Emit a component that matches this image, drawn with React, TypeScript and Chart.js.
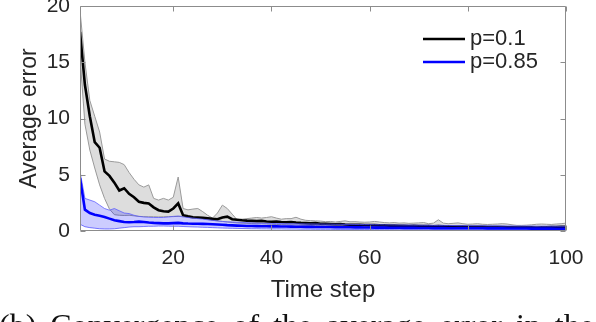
import React, { useEffect, useRef } from "react";
import { Chart, registerables } from "chart.js";

Chart.register(...registerables);

// ---- data ----
const timeSteps: number[] = Array.from({ length: 100 }, (_, i) => i + 1);
const xTickValues = [20, 40, 60, 80, 100];
const yTickValues = [0, 5, 10, 15, 20];
const seriesLabels = ["p=0.1", "p=0.85"];
const xTitle = "Time step";
const yTitle = "Average error";
const caption = "(b) Convergence of the average error in the estimation in";

const blackMean = [
  17.7, 13.0, 10.2, 7.9, 7.4, 5.3, 4.9, 4.3, 3.6, 3.8,
  3.3, 3.0, 2.6, 2.5, 2.45, 2.1, 1.85, 1.75, 1.72, 2.0,
  2.45, 1.4, 1.3, 1.22, 1.2, 1.18, 1.13, 1.08, 1.04, 1.2,
  1.27, 1.05, 1.0, 0.95, 0.92, 0.9, 0.88, 0.9, 0.85, 0.82,
  0.85, 0.8, 0.78, 0.8, 0.75, 0.72, 0.7, 0.68, 0.7, 0.65,
  0.64, 0.62, 0.6, 0.62, 0.58, 0.56, 0.55, 0.55, 0.54, 0.52,
  0.52, 0.5, 0.5, 0.48, 0.48, 0.47, 0.46, 0.45, 0.46, 0.44,
  0.43, 0.44, 0.42, 0.45, 0.42, 0.41, 0.4, 0.4, 0.39, 0.38,
  0.38, 0.37, 0.37, 0.36, 0.36, 0.35, 0.35, 0.34, 0.34, 0.33,
  0.33, 0.32, 0.32, 0.31, 0.32, 0.33, 0.35, 0.36, 0.37, 0.38,
];
const blackUpper = [
  19.6, 15.0, 11.6, 10.2, 8.8, 6.4, 6.2, 6.15, 6.1, 5.9,
  5.2, 4.6, 4.1, 3.9, 4.1, 2.9, 2.75, 2.9, 2.75, 3.0,
  4.8, 2.0, 1.88, 1.95, 2.0, 1.72, 1.4, 1.15, 1.6, 2.3,
  2.0, 1.5, 1.0, 1.05, 1.1, 1.15, 1.2, 1.15, 1.2, 1.27,
  1.15, 1.05, 1.1, 1.1, 1.22, 1.05, 0.95, 0.92, 0.9, 0.88,
  0.83, 0.85, 0.8, 0.85, 0.9, 0.82, 0.83, 0.8, 0.78, 0.8,
  0.85, 0.8, 0.75, 0.72, 0.75, 0.7, 0.72, 0.68, 0.7, 0.72,
  0.75, 0.65, 0.7, 1.0, 0.7, 0.65, 0.68, 0.72, 0.65, 0.6,
  0.62, 0.65, 0.6, 0.58, 0.6, 0.62, 0.65, 0.62, 0.55, 0.5,
  0.5, 0.52, 0.55, 0.6, 0.62, 0.6, 0.58, 0.62, 0.65, 0.7,
];
const blackLower = [
  15.5, 9.5, 7.2, 5.6, 4.1, 2.9, 1.95, 1.45, 1.4, 1.38,
  1.4, 1.35, 1.3, 1.28, 1.27, 1.27, 1.25, 1.27, 1.28, 1.28,
  1.3, 1.32, 1.28, 1.22, 1.15, 1.1, 1.02, 0.95, 0.9, 0.85,
  0.8, 0.76, 0.72, 0.7, 0.68, 0.66, 0.65, 0.64, 0.62, 0.6,
  0.58, 0.57, 0.56, 0.55, 0.54, 0.52, 0.5, 0.49, 0.48, 0.47,
  0.46, 0.45, 0.44, 0.43, 0.42, 0.41, 0.4, 0.39, 0.38, 0.37,
  0.36, 0.35, 0.35, 0.34, 0.33, 0.33, 0.32, 0.31, 0.31, 0.3,
  0.3, 0.29, 0.29, 0.28, 0.28, 0.27, 0.27, 0.26, 0.26, 0.25,
  0.25, 0.24, 0.24, 0.24, 0.23, 0.23, 0.22, 0.22, 0.22, 0.21,
  0.21, 0.21, 0.2, 0.2, 0.2, 0.21, 0.22, 0.23, 0.24, 0.25,
];
const blueMean = [
  4.7, 1.9, 1.6, 1.45, 1.35, 1.25, 1.1, 0.95, 0.88, 0.8,
  0.78, 0.8, 0.83, 0.8, 0.75, 0.72, 0.7, 0.68, 0.68, 0.7,
  0.72, 0.68, 0.66, 0.65, 0.64, 0.63, 0.62, 0.6, 0.58, 0.55,
  0.52, 0.5, 0.48, 0.46, 0.44, 0.44, 0.43, 0.42, 0.42, 0.41,
  0.41, 0.4, 0.4, 0.39, 0.38, 0.38, 0.37, 0.37, 0.36, 0.36,
  0.35, 0.35, 0.34, 0.34, 0.33, 0.33, 0.32, 0.32, 0.31, 0.31,
  0.3, 0.3, 0.3, 0.29, 0.29, 0.29, 0.28, 0.28, 0.28, 0.27,
  0.27, 0.27, 0.26, 0.26, 0.26, 0.25, 0.25, 0.25, 0.25, 0.24,
  0.24, 0.24, 0.24, 0.23, 0.23, 0.23, 0.23, 0.22, 0.22, 0.22,
  0.22, 0.22, 0.21, 0.21, 0.21, 0.21, 0.21, 0.2, 0.2, 0.2,
];
const blueUpper = [
  5.3, 2.9, 2.75, 2.6, 2.3, 2.0, 1.85, 2.0, 1.8, 1.6,
  1.55, 1.4, 1.3, 1.25, 1.22, 1.2, 1.2, 1.2, 1.25, 1.3,
  1.33, 1.25, 1.2, 1.15, 1.1, 1.05, 1.0, 0.95, 0.9, 0.85,
  0.82, 0.8, 0.78, 0.76, 0.74, 0.72, 0.7, 0.69, 0.68, 0.67,
  0.66, 0.66, 0.65, 0.65, 0.64, 0.64, 0.63, 0.63, 0.62, 0.62,
  0.61, 0.61, 0.6, 0.6, 0.59, 0.59, 0.58, 0.58, 0.57, 0.57,
  0.56, 0.56, 0.55, 0.55, 0.54, 0.54, 0.53, 0.53, 0.52, 0.52,
  0.51, 0.51, 0.5, 0.5, 0.5, 0.49, 0.49, 0.48, 0.48, 0.48,
  0.47, 0.47, 0.47, 0.46, 0.46, 0.46, 0.45, 0.45, 0.45, 0.44,
  0.44, 0.44, 0.44, 0.43, 0.43, 0.43, 0.43, 0.42, 0.42, 0.42,
];
const blueLower = [
  0.6, 0.38, 0.3, 0.25, 0.2, 0.18, 0.18, 0.2, 0.25, 0.3,
  0.35, 0.38, 0.38, 0.4, 0.42, 0.42, 0.44, 0.44, 0.43, 0.42,
  0.42, 0.4, 0.38, 0.36, 0.35, 0.33, 0.32, 0.3, 0.28, 0.26,
  0.25, 0.24, 0.23, 0.22, 0.21, 0.2, 0.2, 0.19, 0.19, 0.18,
  0.18, 0.18, 0.17, 0.17, 0.17, 0.16, 0.16, 0.16, 0.15, 0.15,
  0.15, 0.15, 0.14, 0.14, 0.14, 0.14, 0.13, 0.13, 0.13, 0.13,
  0.12, 0.12, 0.12, 0.12, 0.12, 0.11, 0.11, 0.11, 0.11, 0.11,
  0.1, 0.1, 0.1, 0.1, 0.1, 0.1, 0.1, 0.09, 0.09, 0.09,
  0.09, 0.09, 0.09, 0.09, 0.08, 0.08, 0.08, 0.08, 0.08, 0.08,
  0.08, 0.08, 0.08, 0.07, 0.07, 0.07, 0.07, 0.07, 0.07, 0.07,
];

const FONT = "'Liberation Sans', Arial, Helvetica, sans-serif";
const TEXT = "#262626";
const AXIS = "#8c8c8c";

const pts = (vals: number[]) => vals.map((y, i) => ({ x: timeSteps[i], y }));

const framePlugin = {
  id: "matlabFrame",
  afterDatasetsDraw(chart: any) {
    const { ctx, chartArea: a, scales } = chart;
    const xs = scales.x;
    const ys = scales.y;
    const L = Math.round(a.left) + 0.5;
    const R = Math.round(a.right) - 0.5;
    const T = Math.round(a.top) + 0.5;
    const B = Math.round(a.bottom) - 0.5;
    ctx.save();
    ctx.strokeStyle = AXIS;
    ctx.lineWidth = 1;
    ctx.beginPath();
    ctx.moveTo(L, T); ctx.lineTo(R, T); ctx.lineTo(R, B); ctx.lineTo(L, B); ctx.closePath();
    const tl = 5;
    xTickValues.forEach((v) => {
      const px = Math.round(xs.getPixelForValue(v)) + 0.5;
      ctx.moveTo(px, B); ctx.lineTo(px, B - tl);
      ctx.moveTo(px, T); ctx.lineTo(px, T + tl);
    });
    yTickValues.forEach((v) => {
      const py = Math.round(ys.getPixelForValue(v)) + 0.5;
      ctx.moveTo(L, py); ctx.lineTo(L + tl, py);
      ctx.moveTo(R, py); ctx.lineTo(R - tl, py);
    });
    ctx.stroke();
    ctx.restore();
  },
};

const legendPlugin = {
  id: "insideLegend",
  afterDraw(chart: any) {
    const { ctx, chartArea: a } = chart;
    const items = chart.data.datasets.filter((d: any) => seriesLabels.includes(d.label));
    items.sort((p: any, q: any) => seriesLabels.indexOf(p.label) - seriesLabels.indexOf(q.label));
    ctx.save();
    ctx.font = `22px ${FONT}`;
    ctx.textBaseline = "middle";
    ctx.textAlign = "left";
    items.forEach((d: any, i: number) => {
      const y = a.top + 33 + i * 23;
      const x0 = a.right - 143;
      ctx.strokeStyle = d.borderColor;
      ctx.lineWidth = 2.5;
      ctx.beginPath();
      ctx.moveTo(x0, y);
      ctx.lineTo(x0 + 42, y);
      ctx.stroke();
      ctx.fillStyle = TEXT;
      ctx.fillText(d.label, x0 + 47, y);
    });
    ctx.restore();
  },
};

export default function App() {
  const ref = useRef<HTMLCanvasElement | null>(null);
  useEffect(() => {
    if (!ref.current) return;
    const chart = new Chart(ref.current, {
      type: "line",
      data: {
        datasets: [
          { label: seriesLabels[1], data: pts(blueMean), borderColor: "#0000ff", borderWidth: 2.6, pointRadius: 0, fill: false, tension: 0 },
          { label: "p=0.85 upper", data: pts(blueUpper), borderColor: "rgba(90,90,255,0.75)", borderWidth: 1, pointRadius: 0, fill: { target: 2 }, backgroundColor: "rgba(0,0,255,0.2)", tension: 0 },
          { label: "p=0.85 lower", data: pts(blueLower), borderColor: "rgba(90,90,255,0.75)", borderWidth: 1, pointRadius: 0, fill: false, tension: 0 },
          { label: seriesLabels[0], data: pts(blackMean), borderColor: "#000000", borderWidth: 2.6, pointRadius: 0, fill: false, tension: 0 },
          { label: "p=0.1 upper", data: pts(blackUpper), borderColor: "#9a9a9a", borderWidth: 1, pointRadius: 0, fill: { target: 5 }, backgroundColor: "rgba(150,150,150,0.32)", tension: 0 },
          { label: "p=0.1 lower", data: pts(blackLower), borderColor: "#9a9a9a", borderWidth: 1, pointRadius: 0, fill: false, tension: 0 },
        ],
      },
      options: {
        animation: false,
        responsive: false,
        devicePixelRatio: 1,
        layout: { padding: { top: 6, right: 30, left: 0, bottom: 0 } },
        plugins: { legend: { display: false }, tooltip: { enabled: false } },
        scales: {
          x: {
            type: "linear",
            min: 1,
            max: 100,
            afterBuildTicks: (s: any) => { s.ticks = xTickValues.map((v) => ({ value: v })); },
            afterFit: (s: any) => { s.height = 91; s.paddingLeft = 0; s.paddingRight = 0; },
            grid: { display: false, drawTicks: false },
            border: { display: false },
            ticks: { padding: 15, color: TEXT, font: { family: FONT, size: 21 }, maxRotation: 0, autoSkip: false },
            title: { display: true, text: xTitle, color: TEXT, font: { family: FONT, size: 24 }, padding: { top: 0, bottom: 17 } },
          },
          y: {
            min: 0,
            max: 20,
            afterBuildTicks: (s: any) => { s.ticks = yTickValues.map((v) => ({ value: v })); },
            afterFit: (s: any) => { s.width = 80; s.paddingTop = 0; s.paddingBottom = 0; },
            grid: { display: false, drawTicks: false },
            border: { display: false },
            ticks: { padding: 10, color: TEXT, font: { family: FONT, size: 21 } },
            title: { display: true, text: yTitle, color: TEXT, font: { family: FONT, size: 23 }, padding: { top: 16, bottom: 0 } },
          },
        },
      },
      plugins: [framePlugin, legendPlugin],
    } as any);
    return () => chart.destroy();
  }, []);

  return (
    <div style={{ position: "fixed", left: 0, top: 0, width: 596, height: 322, overflow: "hidden", background: "#fff" }}>
      <canvas ref={ref} width={596} height={322} style={{ display: "block", width: 596, height: 322 }} />
      <div
        style={{
          position: "absolute",
          left: -1,
          top: 309,
          fontFamily: "'Liberation Serif', 'Times New Roman', serif",
          fontSize: 32,
          lineHeight: "32px",
          color: "#111",
          whiteSpace: "nowrap",
          wordSpacing: 6,
        }}
      >
        {caption}
      </div>
    </div>
  );
}
